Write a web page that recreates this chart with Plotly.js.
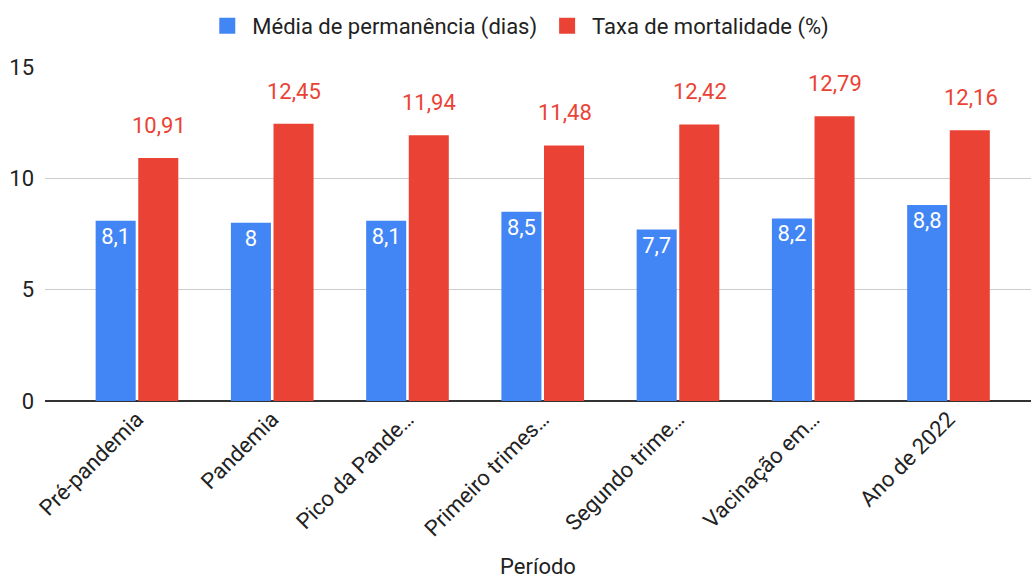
<!DOCTYPE html>
<html>
<head>
<meta charset="utf-8">
<script src="https://cdn.plot.ly/plotly-3.0.1.min.js"></script>
<style>html,body{margin:0;padding:0;background:#fff;}#chart{width:1031px;height:579px;}</style>
</head>
<body>
<div id="chart"></div>
<script>
const categories = ["Pré-pandemia", "Pandemia", "Pico da Pande…", "Primeiro trimes…", "Segundo trime…", "Vacinação em…", "Ano de 2022"];
const mediaPermanencia = [8.1, 8, 8.1, 8.5, 7.7, 8.2, 8.8];
const taxaMortalidade = [10.91, 12.45, 11.94, 11.48, 12.42, 12.79, 12.16];
const seriesNames = ["Média de permanência (dias)", "Taxa de mortalidade (%)"];
const seriesColors = ['#4285f4', '#ea4335'];
const yTicks = [0, 5, 10, 15];

const fmt = v => String(v).replace('.', ',');
const FONT = 'Roboto, "Open Sans", Arial, sans-serif';
const FS = 22;

const traces = [
  {
    type: 'bar', name: seriesNames[0], x: categories, y: mediaPermanencia,
    marker: {color: seriesColors[0]}, showlegend: false,
    text: mediaPermanencia.map(fmt), textposition: 'inside', insidetextanchor: 'end',
    textfont: {color: '#ffffff', size: FS, family: FONT}, textangle: 0
  },
  {
    type: 'bar', name: seriesNames[1], x: categories, y: taxaMortalidade,
    marker: {color: seriesColors[1]}, showlegend: false
  },
  {
    type: 'scatter', mode: 'markers', name: seriesNames[0], x: [null], y: [null],
    marker: {symbol: 'square', size: 19, color: seriesColors[0]}
  },
  {
    type: 'scatter', mode: 'markers', name: seriesNames[1], x: [null], y: [null],
    marker: {symbol: 'square', size: 19, color: seriesColors[1]}
  }
];

const annotations = taxaMortalidade.map((v, i) => ({
  x: categories[i], y: v, xref: 'x', yref: 'y', text: fmt(v),
  showarrow: false, yanchor: 'bottom', xshift: 22, yshift: 18,
  font: {color: seriesColors[1], size: FS, family: FONT}
}));

const layout = {
  width: 1031, height: 579,
  margin: {l: 45, r: 0, t: 67, b: 178},
  paper_bgcolor: '#fff', plot_bgcolor: '#fff',
  font: {family: FONT, color: '#222', size: FS},
  barmode: 'group', bargap: 0.37, bargroupgap: 0.06,
  showlegend: true,
  legend: {orientation: 'h', x: 0.48, xanchor: 'center', yref: 'container', y: 0.955, yanchor: 'middle',
           font: {size: FS, color: '#222', family: FONT}, itemsizing: 'trace', itemwidth: 40},
  xaxis: {
    type: 'category', range: [-0.68, 6.61], tickangle: -45,
    tickfont: {size: FS, color: '#222', family: FONT},
    showgrid: false, showline: false, zeroline: false, ticks: '', automargin: false,
    title: {text: 'Período', font: {size: FS, color: '#222', family: FONT}, standoff: 18}
  },
  yaxis: {
    range: [0, 15], tickvals: yTicks, ticktext: yTicks.map(String),
    tickfont: {size: FS, color: '#222', family: FONT}, automargin: false,
    gridcolor: '#cccccc', gridwidth: 1, zeroline: true, zerolinecolor: '#333', zerolinewidth: 1.5,
    showline: false, ticks: '', ticklabelstandoff: 10
  },
  annotations: annotations
};

Plotly.newPlot('chart', traces, layout, {displayModeBar: false, staticPlot: true});
</script>
</body>
</html>
